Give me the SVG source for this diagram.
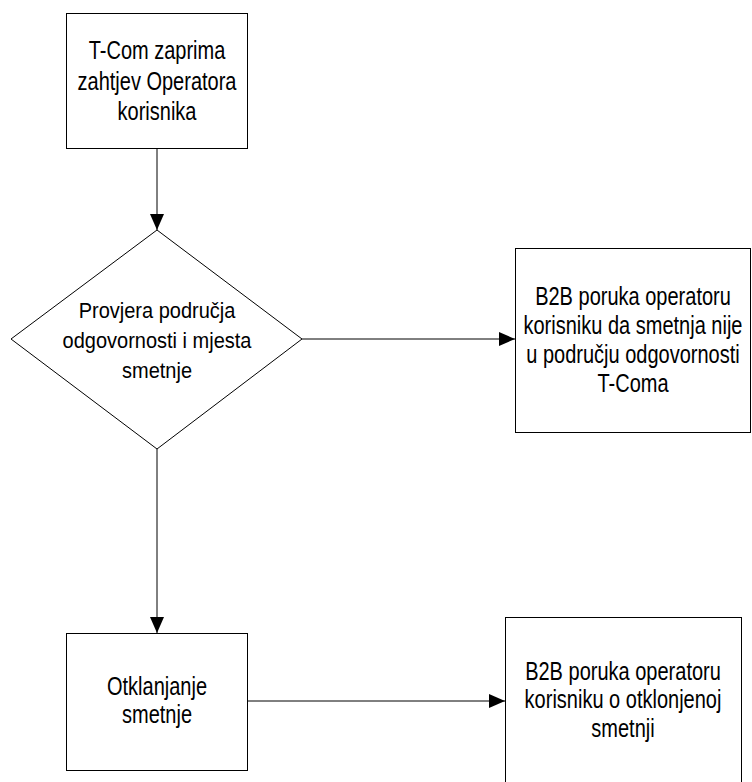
<svg xmlns="http://www.w3.org/2000/svg" width="752" height="782" viewBox="0 0 752 782">
<style>
.box{fill:#fff;stroke:#000;stroke-width:1}
.t{font-family:"Liberation Sans",Arial,sans-serif;font-size:20px;fill:#000;text-anchor:middle}
.c{fill:none;stroke:#000;stroke-width:1}
</style>
<defs>
<marker id="ah" markerUnits="userSpaceOnUse" markerWidth="16" markerHeight="14" refX="16" refY="7" orient="auto">
<path d="M0,0 L16,7 L0,14 Z" fill="#000"/>
</marker>
</defs>
<rect width="752" height="782" fill="#fff"/>
<g id="connectors">
<line class="c" x1="157" y1="148" x2="157" y2="230" marker-end="url(#ah)"/>
<line class="c" x1="302" y1="339" x2="515" y2="339" marker-end="url(#ah)"/>
<line class="c" x1="157" y1="449" x2="157" y2="633" marker-end="url(#ah)"/>
<line class="c" x1="247" y1="701" x2="505" y2="701" marker-end="url(#ah)"/>
</g>
<g id="n1">
<rect class="box" x="66.5" y="13.5" width="181" height="135"/>
<text class="t" transform="translate(157,59) scale(1,1.27)">T-Com zaprima</text>
<text class="t" transform="translate(157,90) scale(1,1.27)">zahtjev Operatora</text>
<text class="t" transform="translate(157,120) scale(1,1.27)">korisnika</text>
</g>
<g id="n2">
<polygon class="box" points="157,230 302,339 157,449 11,339"/>
<text class="t" transform="translate(157,318) scale(1,1.12)">Provjera područja</text>
<text class="t" transform="translate(157,348) scale(1,1.12)">odgovornosti i mjesta</text>
<text class="t" transform="translate(157,378) scale(1,1.12)">smetnje</text>
</g>
<g id="n3">
<rect class="box" x="515.5" y="248.5" width="235" height="184"/>
<text class="t" transform="translate(633,305) scale(1,1.27)">B2B poruka operatoru</text>
<text class="t" transform="translate(633,334) scale(1,1.27)">korisniku da smetnja nije</text>
<text class="t" transform="translate(633,363) scale(1,1.27)">u području odgovornosti</text>
<text class="t" transform="translate(633,392) scale(1,1.27)">T-Coma</text>
</g>
<g id="n4">
<rect class="box" x="66.5" y="633.5" width="181" height="137"/>
<text class="t" transform="translate(157,695) scale(1,1.27)">Otklanjanje</text>
<text class="t" transform="translate(157,723) scale(1,1.27)">smetnje</text>
</g>
<g id="n5">
<rect class="box" x="505.5" y="617.5" width="236" height="180"/>
<text class="t" transform="translate(623,680) scale(1,1.27)">B2B poruka operatoru</text>
<text class="t" transform="translate(623,708) scale(1,1.27)">korisniku o otklonjenoj</text>
<text class="t" transform="translate(623,737) scale(1,1.27)">smetnji</text>
</g>
</svg>
